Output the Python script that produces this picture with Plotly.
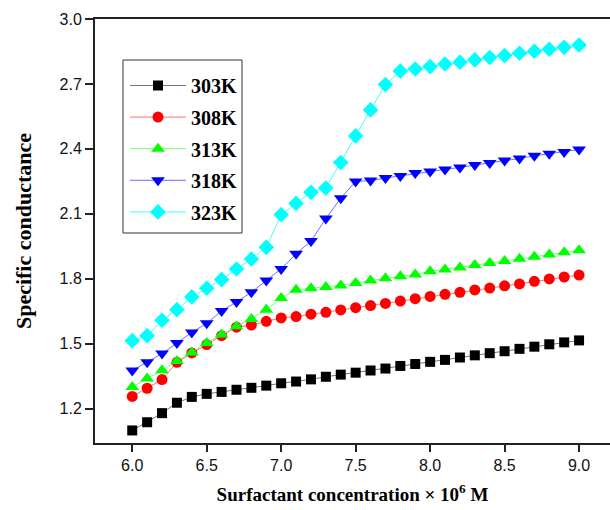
import plotly.graph_objects as go

# ---- data ----
concentration = [6.0, 6.1, 6.2, 6.3, 6.4, 6.5, 6.6, 6.7, 6.8, 6.9,
                 7.0, 7.1, 7.2, 7.3, 7.4, 7.5, 7.6, 7.7, 7.8, 7.9,
                 8.0, 8.1, 8.2, 8.3, 8.4, 8.5, 8.6, 8.7, 8.8, 8.9, 9.0]

k303 = [1.099, 1.137, 1.179, 1.227, 1.254, 1.268, 1.277, 1.287, 1.296, 1.306,
        1.317, 1.325, 1.335, 1.347, 1.357, 1.366, 1.376, 1.385, 1.397, 1.406,
        1.416, 1.425, 1.436, 1.446, 1.456, 1.465, 1.476, 1.486, 1.497, 1.506, 1.515]
k308 = [1.256, 1.294, 1.334, 1.414, 1.457, 1.496, 1.537, 1.576, 1.586, 1.603,
        1.619, 1.625, 1.636, 1.645, 1.656, 1.666, 1.676, 1.686, 1.697, 1.708,
        1.718, 1.728, 1.737, 1.748, 1.757, 1.767, 1.776, 1.788, 1.799, 1.808, 1.817]
k313 = [1.300, 1.339, 1.377, 1.420, 1.459, 1.503, 1.542, 1.580, 1.614, 1.657,
        1.711, 1.749, 1.756, 1.762, 1.769, 1.780, 1.792, 1.802, 1.811, 1.820,
        1.834, 1.843, 1.852, 1.863, 1.873, 1.882, 1.892, 1.902, 1.912, 1.922, 1.931]
k318 = [1.376, 1.414, 1.454, 1.503, 1.552, 1.594, 1.651, 1.693, 1.737, 1.792,
        1.845, 1.915, 1.974, 2.078, 2.172, 2.249, 2.254, 2.265, 2.275, 2.288,
        2.295, 2.305, 2.314, 2.326, 2.335, 2.346, 2.355, 2.368, 2.377, 2.386, 2.397]
k323 = [1.514, 1.537, 1.608, 1.657, 1.716, 1.756, 1.796, 1.845, 1.891, 1.945,
        2.096, 2.148, 2.199, 2.219, 2.337, 2.460, 2.580, 2.697, 2.760, 2.769,
        2.780, 2.792, 2.800, 2.811, 2.822, 2.831, 2.842, 2.851, 2.860, 2.869, 2.880]

series_names = ["303K", "308K", "313K", "318K", "323K"]
series_values = [k303, k308, k313, k318, k323]
marker_colors = ["#000000", "#ff0000", "#00ff00", "#0000ff", "#00ffff"]
line_colors = ["#777777", "#ff7070", "#70ff70", "#6f6fff", "#40ffff"]
symbols = ["square", "circle", "triangle-up", "triangle-down", "diamond"]
sizes = [10, 11, 12, 12, 12]

x_ticks = [6.0, 6.5, 7.0, 7.5, 8.0, 8.5, 9.0]
y_ticks = [1.2, 1.5, 1.8, 2.1, 2.4, 2.7, 3.0]

# ---- layout geometry (px) ----
W, H = 610, 510
ML, MR, MT, MB = 95, 0, 19, 67
PW, PH = W - ML - MR, H - MT - MB


def px_x(px):
    return (px - ML) / PW


def px_y(py):
    return (H - MB - py) / PH


fig = go.Figure()
for i, (name, vals) in enumerate(zip(series_names, series_values)):
    fig.add_trace(go.Scatter(
        x=concentration, y=vals, name=name, mode="lines+markers",
        legendgroup=name,
        line=dict(color=line_colors[i], width=1),
        marker=dict(symbol=symbols[i], size=sizes[i], color=marker_colors[i],
                    line=dict(width=0)),
    ))

serif = "Liberation Serif, Times New Roman, serif"
sans = "Liberation Sans, Arial, sans-serif"

fig.update_layout(
    width=W, height=H,
    margin=dict(l=ML, r=MR, t=MT, b=MB),
    paper_bgcolor="white", plot_bgcolor="white",
    showlegend=True,
    legend=dict(
        x=px_x(125), y=px_y(66), xanchor="left", yanchor="top",
        bgcolor="rgba(0,0,0,0)", borderwidth=0,
        font=dict(family=serif, size=20, color="black", weight="bold"),
        itemwidth=56, tracegroupgap=2.6,
    ),
    shapes=[dict(type="rect", xref="paper", yref="paper",
                 x0=px_x(123), x1=px_x(242), y0=px_y(233), y1=px_y(60),
                 line=dict(color="#333333", width=1))],
    xaxis=dict(
        range=[5.75, 9.0 + (610 - 579) / 149.3],
        tickvals=x_ticks, ticktext=[f"{v:.1f}" for v in x_ticks],
        showgrid=False, zeroline=False,
        showline=True, linecolor="#222222", linewidth=2, mirror=True,
        ticks="outside", ticklen=7, tickwidth=2, tickcolor="#222222",
        tickfont=dict(family=sans, size=16, color="#111111"),
        title=dict(text="Surfactant concentration \u00d7 10<sup>6</sup> M",
                   font=dict(family=serif, size=19, color="black", weight="bold"),
                   standoff=14),
    ),
    yaxis=dict(
        range=[1.041, 3.0],
        tickvals=y_ticks, ticktext=[f"{v:.1f}" for v in y_ticks],
        showgrid=False, zeroline=False,
        showline=True, linecolor="#222222", linewidth=2, mirror=False,
        ticks="outside", ticklen=8, tickwidth=2, tickcolor="#222222",
        tickfont=dict(family=sans, size=16, color="#111111"),
        title=dict(text="Specific conductance",
                   font=dict(family=serif, size=22, color="black", weight="bold"),
                   standoff=22),
    ),
)

fig.write_html("out.html")
